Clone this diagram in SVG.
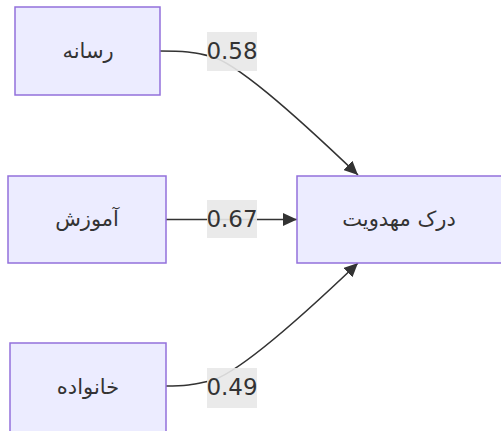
<svg xmlns="http://www.w3.org/2000/svg" width="501" height="431" viewBox="0 0 501 431">
<style>
.node rect{fill:#ECECFF;stroke:#9370DB;stroke-width:1.5}
.node text{font-family:"DejaVu Sans","Noto Sans",sans-serif;font-size:21px;fill:#333;text-anchor:middle;dominant-baseline:central}
.edge{fill:none;stroke:#333;stroke-width:1.6}
.lbl rect{fill:#e8e8e8;opacity:0.9}
.lbl text{font-family:"DejaVu Sans","Noto Sans",sans-serif;font-size:23px;fill:#333;text-anchor:middle;dominant-baseline:central}
</style>
<defs>
<marker id="arr" markerUnits="userSpaceOnUse" markerWidth="15" markerHeight="13" refX="14" refY="6.5" orient="auto">
<path d="M0,0 L14,6.5 L0,13 z" fill="#333"/>
</marker>
</defs>
<rect width="501" height="431" fill="#fff"/>
<g id="connectors">
<path class="edge" d="M160,51 C190,51 195,53 210,56 C235,62 290,110 358,175" marker-end="url(#arr)"/>
<path class="edge" d="M166,219.5 L297,219.5" marker-end="url(#arr)"/>
<path class="edge" d="M166,386 C190,386 195,384 210,381 C235,375 290,328 358,263" marker-end="url(#arr)"/>
<g class="lbl"><rect x="207" y="32" width="50" height="39"/><text x="232" y="51">0.58</text></g>
<g class="lbl"><rect x="207" y="200" width="50" height="38"/><text x="232" y="219">0.67</text></g>
<g class="lbl"><rect x="207" y="368" width="50" height="40"/><text x="232" y="387">0.49</text></g>
</g>
<g id="n1" class="node"><rect x="15" y="7" width="145" height="88"/><text x="88" y="51" direction="rtl">رسانه</text></g>
<g id="n2" class="node"><rect x="8" y="176" width="158" height="87"/><text x="87" y="219" direction="rtl">آموزش</text></g>
<g id="n3" class="node"><rect x="10" y="343" width="156" height="95"/><text x="88" y="387" direction="rtl">خانواده</text></g>
<g id="n4" class="node"><rect x="297" y="176" width="210" height="87"/><text x="399" y="219" direction="rtl">درک مهدویت</text></g>
</svg>
